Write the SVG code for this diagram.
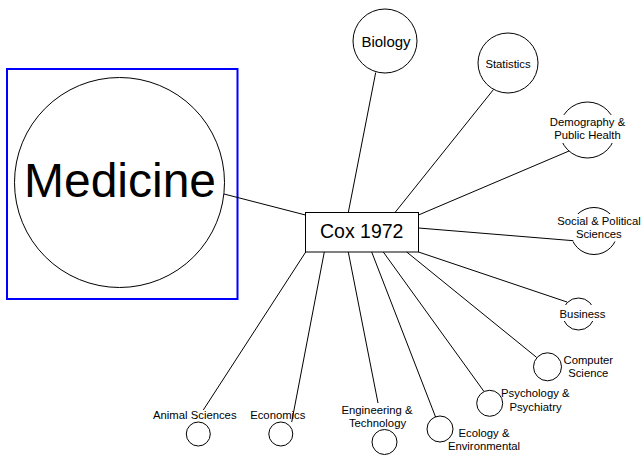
<svg xmlns="http://www.w3.org/2000/svg" width="643" height="455" viewBox="0 0 643 455">
<style>
.c{fill:#fff;stroke:#000;stroke-width:1}
.t{font-family:"Liberation Sans",Arial,sans-serif;font-size:11.3px;fill:#000;text-anchor:middle}
.bg{fill:#fff;stroke:none}
.e{stroke:#000;stroke-width:1;fill:none}
</style>
<rect width="643" height="455" fill="#fff"/>
<g id="node-medicine">
<circle class="c" cx="119.5" cy="182.5" r="105"/>
<text class="t" x="120" y="197" style="font-size:48px">Medicine</text>
</g>
<rect id="selection" x="7" y="69" width="230.5" height="230" fill="none" stroke="#0000ff" stroke-width="2"/>
<g id="node-cox">
<rect x="305.5" y="212.5" width="113" height="39.5" fill="#fff" stroke="#000" stroke-width="1"/>
<text class="t" x="361.7" y="238" style="font-size:19.5px">Cox 1972</text>
</g>
<g id="node-biology">
<circle class="c" cx="385" cy="41" r="32"/>
<text class="t" x="386" y="46.7" style="font-size:15px">Biology</text>
</g>
<g id="node-statistics">
<circle class="c" cx="508" cy="63" r="30"/>
<text class="t" x="508" y="68">Statistics</text>
</g>
<g id="node-demography">
<circle class="c" cx="587.5" cy="130" r="28"/>
<rect class="bg" x="549" y="115" width="77" height="28"/>
<text class="t" x="587.5" y="126">Demography &amp;</text>
<text class="t" x="587.5" y="139.3">Public Health</text>
</g>
<g id="node-social">
<circle class="c" cx="594" cy="231" r="23.5"/>
<rect class="bg" x="556" y="214" width="86" height="27.5"/>
<text class="t" x="599" y="225">Social &amp; Political</text>
<text class="t" x="598.8" y="238.3">Sciences</text>
</g>
<g id="node-business">
<circle class="c" cx="578.5" cy="314" r="16"/>
<rect class="bg" x="558" y="305" width="49" height="16"/>
<text class="t" x="582.5" y="317.7">Business</text>
</g>
<g id="node-computer">
<circle class="c" cx="547.5" cy="366.8" r="14"/>
<text class="t" x="588.3" y="364">Computer</text>
<text class="t" x="588.3" y="377.3">Science</text>
</g>
<g id="node-psychology">
<circle class="c" cx="489.7" cy="403.3" r="13"/>
<text class="t" x="535.3" y="396.7">Psychology &amp;</text>
<text class="t" x="535.5" y="410.7">Psychiatry</text>
</g>
<g id="node-ecology">
<circle class="c" cx="440" cy="429" r="13"/>
<text class="t" x="484" y="436.7">Ecology &amp;</text>
<text class="t" x="484" y="450">Environmental</text>
</g>
<g id="node-engineering">
<circle class="c" cx="384.5" cy="442" r="12.5"/>
<text class="t" x="377" y="414">Engineering &amp;</text>
<text class="t" x="377.5" y="427.3">Technology</text>
</g>
<g id="node-economics">
<circle class="c" cx="280.8" cy="434" r="12"/>
<text class="t" x="277.8" y="419">Economics</text>
</g>
<g id="node-animal">
<circle class="c" cx="198.3" cy="434" r="12"/>
<text class="t" x="194.8" y="419.3">Animal Sciences</text>
</g>
<g id="connectors">
<line class="e" x1="224" y1="194" x2="305.5" y2="215"/>
<line class="e" x1="348.3" y1="212.5" x2="375.7" y2="72.5"/>
<line class="e" x1="395" y1="212.5" x2="493.5" y2="89.5"/>
<line class="e" x1="418.5" y1="215" x2="569" y2="151"/>
<line class="e" x1="418.5" y1="228" x2="573.3" y2="240.7"/>
<line class="e" x1="418.5" y1="252" x2="567" y2="302"/>
<line class="e" x1="406.7" y1="252" x2="536.5" y2="357.3"/>
<line class="e" x1="383.3" y1="252" x2="484" y2="391.5"/>
<line class="e" x1="371.7" y1="252" x2="435.7" y2="417.3"/>
<line class="e" x1="348.3" y1="252" x2="378" y2="403"/>
<line class="e" x1="324.3" y1="252" x2="291.7" y2="422"/>
<line class="e" x1="305.7" y1="252" x2="203.3" y2="410"/>
</g>
</svg>
